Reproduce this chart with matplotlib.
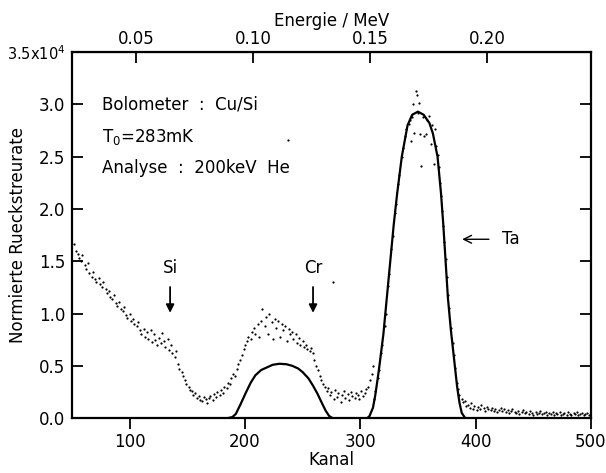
import matplotlib
matplotlib.use("Agg")
import matplotlib.pyplot as plt

plt.rcParams["font.family"] = ["DejaVu Sans"]

# measured spectrum (channel, normalised rate)
kanal_pts = [
    52, 53, 55, 56, 58, 59, 61, 62, 64, 65, 67, 68, 70, 71, 73, 74, 76, 77, 79, 80,
    82, 83, 85, 86, 88, 89, 91, 92, 94, 95, 97, 98, 100, 101, 103, 104, 106, 107, 109, 110,
    112, 113, 115, 116, 118, 119, 121, 122, 124, 125, 127, 128, 130, 131, 133, 134, 136, 137, 139, 140,
    142, 143, 145, 146, 148, 149, 151, 152, 154, 155, 157, 158, 160, 161, 163, 164, 166, 167, 169, 170,
    172, 173, 175, 176, 178, 179, 181, 182, 184, 185, 187, 188, 190, 191, 193, 194, 196, 197, 199, 200,
    202, 203, 205, 206, 208, 209, 211, 212, 214, 215, 217, 218, 220, 221, 223, 224, 226, 227, 229, 230,
    232, 233, 235, 236, 238, 239, 241, 242, 244, 245, 247, 248, 250, 251, 253, 254, 256, 257, 259, 260,
    262, 263, 265, 266, 268, 269, 271, 272, 274, 275, 277, 278, 280, 281, 283, 284, 286, 287, 289, 290,
    292, 293, 295, 296, 298, 299, 301, 302, 304, 305, 307, 308, 310, 311,
    312, 313, 315, 316, 318, 319, 321, 322, 324, 325, 327, 328, 330, 331, 333, 334, 336, 337, 339, 340,
    342, 343, 344, 345, 346, 347, 348, 349, 350, 351, 352, 353, 354, 355, 357, 358, 360, 361, 362, 364,
    365, 366, 367, 368, 369, 370, 371, 372, 373, 374, 375, 376, 377, 379, 380, 381, 382, 384, 385, 386,
    388, 389, 391, 392, 393, 395, 396, 398, 399, 401, 402, 404, 405, 407, 408, 410, 411, 413, 414, 416,
    417, 419, 420, 422, 423, 425, 426, 428, 429, 431, 432, 434, 435, 437, 438, 440, 441, 443, 444, 446,
    447, 449, 450, 452, 453, 455, 456, 458, 459, 461, 462, 464, 465, 467, 468, 470, 471, 473, 474, 476,
    477, 479, 480, 482, 483, 485, 486, 488, 489, 491, 492, 494, 495, 497, 498,
    237, 276,
]
rate_pts = [
    1.66, 1.60, 1.57, 1.53, 1.50, 1.56, 1.46, 1.43, 1.48, 1.39, 1.35, 1.40, 1.33, 1.30, 1.34, 1.28, 1.25, 1.30, 1.23, 1.20,
    1.22, 1.16, 1.14, 1.18, 1.10, 1.07, 1.11, 1.04, 1.02, 1.06, 0.99, 0.96, 1.00, 0.93, 0.95, 0.90, 0.88, 0.92, 0.84, 0.80,
    0.85, 0.78, 0.82, 0.76, 0.84, 0.73, 0.80, 0.75, 0.70, 0.77, 0.72, 0.81, 0.74, 0.68, 0.76, 0.65, 0.70, 0.62, 0.58, 0.64,
    0.52, 0.47, 0.44, 0.40, 0.36, 0.33, 0.30, 0.27, 0.26, 0.22, 0.24, 0.19, 0.21, 0.17, 0.16, 0.20, 0.18, 0.14, 0.19, 0.21,
    0.17, 0.23, 0.20, 0.25, 0.22, 0.27, 0.24, 0.30, 0.29, 0.34, 0.33, 0.38, 0.42, 0.40, 0.47, 0.52, 0.56, 0.60, 0.66, 0.70,
    0.74, 0.78, 0.76, 0.82, 0.86, 0.80, 0.90, 0.78, 0.93, 1.04, 0.88, 0.97, 0.80, 1.00, 0.92, 0.76, 0.95, 0.86, 0.93, 0.78,
    0.90, 0.84, 0.88, 0.74, 0.85, 0.80, 0.82, 0.76, 0.80, 0.72, 0.77, 0.70, 0.74, 0.68, 0.70, 0.66, 0.64, 0.67, 0.62, 0.56,
    0.50, 0.46, 0.40, 0.36, 0.33, 0.30, 0.26, 0.29, 0.22, 0.25, 0.18, 0.27, 0.20, 0.24, 0.15, 0.22, 0.26, 0.19, 0.23, 0.17,
    0.25, 0.21, 0.19, 0.24, 0.22, 0.18, 0.26, 0.21, 0.24, 0.28, 0.30, 0.36, 0.42, 0.50,
    0.18, 0.26, 0.38, 0.46, 0.62, 0.70, 0.88, 1.00, 1.26, 1.38, 1.62, 1.74, 1.96, 2.05, 2.24, 2.32, 2.50, 2.58, 2.70, 2.76,
    2.81, 2.85, 2.65, 2.88, 3.00, 2.73, 3.13, 3.09, 2.92, 3.01, 2.72, 2.41, 2.88, 2.70, 2.72, 2.85, 2.89, 2.62, 2.80, 2.43,
    2.76, 2.60, 2.52, 2.40, 2.25, 2.12, 1.98, 1.84, 1.68, 1.52, 1.35, 1.18, 1.05, 0.86, 0.72, 0.60, 0.48, 0.34, 0.28, 0.22,
    0.18, 0.15, 0.16, 0.12, 0.13, 0.10, 0.14, 0.09, 0.12, 0.08, 0.11, 0.09, 0.13, 0.10, 0.07, 0.11, 0.09, 0.08, 0.10, 0.07,
    0.09, 0.06, 0.08, 0.10, 0.07, 0.09, 0.06, 0.08, 0.05, 0.07, 0.09, 0.06, 0.05, 0.07, 0.04, 0.06, 0.08, 0.05, 0.06, 0.04,
    0.07, 0.05, 0.03, 0.06, 0.04, 0.05, 0.07, 0.04, 0.05, 0.06, 0.03, 0.05, 0.04, 0.06, 0.03, 0.05, 0.04, 0.06, 0.03, 0.04,
    0.05, 0.03, 0.06, 0.04, 0.03, 0.05, 0.04, 0.06, 0.03, 0.04, 0.05, 0.03, 0.04, 0.05, 0.03,
    2.66, 1.30,
]

# simulated spectrum (solid line)
kanal_sim = [50, 185, 189, 192, 196, 201, 205, 209, 214, 218, 224, 230, 236, 241, 246, 250, 255, 259, 263, 266, 270, 273, 276,
             306, 308, 311, 313, 316, 320, 323, 326, 329, 332, 336, 341, 345, 350, 355, 360, 363, 367, 370, 372, 374,
             376, 378.5, 381.5, 384, 386, 388, 391, 500]
rate_sim = [0.0, 0.0, 0.01, 0.04, 0.13, 0.25, 0.34, 0.41, 0.46, 0.48, 0.51, 0.52, 0.515, 0.50, 0.475, 0.44, 0.38, 0.31, 0.23, 0.16, 0.07, 0.02, 0.0,
            0.0, 0.02, 0.10, 0.22, 0.45, 0.80, 1.15, 1.50, 1.85, 2.15, 2.50, 2.80, 2.90, 2.93, 2.90, 2.82, 2.72, 2.50, 2.15, 1.85, 1.50,
            1.15, 0.85, 0.55, 0.30, 0.15, 0.05, 0.0, 0.0]

y_ticks = [0.0, 0.5, 1.0, 1.5, 2.0, 2.5, 3.0, 3.5]
y_labels = ["0.0", "0.5", "1.0", "1.5", "2.0", "2.5", "3.0", "3.5x10$^4$"]
x_ticks = [100, 200, 300, 400, 500]
mev_ticks = [0.05, 0.10, 0.15, 0.20]


def kanal_to_mev(k):
    return 4.926e-4 * k - 0.0019


def mev_to_kanal(e):
    return (e + 0.0019) / 4.926e-4


fs = 12
fig = plt.figure(figsize=(6.06, 4.73), dpi=100)
ax = fig.add_axes([0.119, 0.116, 0.856, 0.774])

ax.plot(kanal_pts, rate_pts, ".", color="black", ms=3.2, mew=0)
ax.plot(kanal_sim, rate_sim, "-", color="black", lw=1.6)

ax.set_xlim(50, 500)
ax.set_ylim(0, 3.5)
ax.set_xticks(x_ticks)
ax.set_yticks(y_ticks)
ax.set_yticklabels(y_labels)
ax.tick_params(axis="x", direction="out", length=8, width=1.3, labelsize=fs, top=False, pad=3)
ax.tick_params(axis="y", direction="in", length=8, width=1.3, labelsize=fs, right=True, pad=5)
ax.get_yticklabels()[-1].set_fontsize(10.5)
for s in ax.spines.values():
    s.set_linewidth(1.6)

ax.set_xlabel("Kanal", fontsize=fs, labelpad=0)
ax.set_ylabel("Normierte Rueckstreurate", fontsize=fs)
ax.yaxis.set_label_coords(-0.087, 0.5)

secax = ax.secondary_xaxis("top", functions=(kanal_to_mev, mev_to_kanal))
secax.set_xticks(mev_ticks)
secax.set_xticklabels(["%.2f" % v for v in mev_ticks])
secax.tick_params(direction="in", length=8, width=1.3, labelsize=fs, pad=3)
secax.set_xlabel("Energie / MeV", fontsize=fs, labelpad=3)

ax.text(76, 3.0, "Bolometer  :  Cu/Si", fontsize=fs, va="center")
ax.text(76, 2.69, "T$_0$=283mK", fontsize=fs, va="center")
ax.text(76, 2.39, "Analyse  :  200keV  He", fontsize=fs, va="center")

ax.text(135, 1.44, "Si", fontsize=fs, ha="center", va="center")
ax.annotate("", xy=(135, 0.98), xytext=(135, 1.28),
            arrowprops=dict(arrowstyle="-|>", color="black", lw=1.3, mutation_scale=12))
ax.text(259, 1.44, "Cr", fontsize=fs, ha="center", va="center")
ax.annotate("", xy=(259, 0.98), xytext=(259, 1.28),
            arrowprops=dict(arrowstyle="-|>", color="black", lw=1.3, mutation_scale=12))
ax.annotate("", xy=(386, 1.71), xytext=(414, 1.71),
            arrowprops=dict(arrowstyle="->", color="black", lw=1.0, mutation_scale=14))
ax.text(423, 1.71, "Ta", fontsize=fs, va="center")

fig.savefig("out.png", dpi=100)
